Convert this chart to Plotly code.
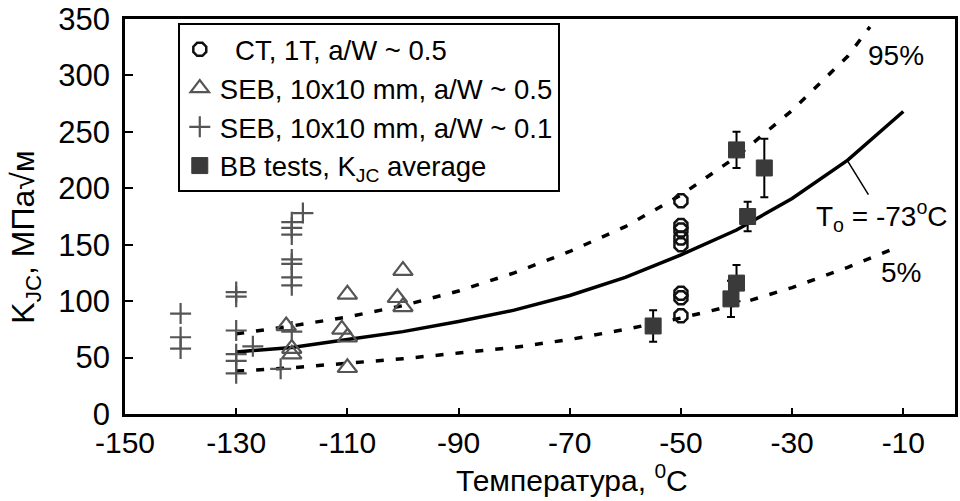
import plotly.graph_objects as go

# ---- data ----
ct_T = [-50, -50, -50, -50, -50, -50, -50, -50]
ct_K = [189, 167, 163, 156, 150, 107, 103, 87]

seb5_T = [-121, -120, -120, -110, -111, -110, -110, -100, -101, -100]
seb5_K = [78, 58, 53, 106, 75, 68, 41, 127, 103, 95]

seb1_T = [-140, -140, -140, -130, -130, -130, -130, -130, -130, -127, -122,
          -120, -120, -120, -120, -120, -120, -120, -120, -118]
seb1_K = [89, 68, 58, 108, 104, 74, 53, 47, 36, 60, 40,
          170, 165, 159, 137, 133, 121, 114, 73, 178]

bb_T = [-55, -40, -35, -38, -40, -41]
bb_K = [78, 234, 218, 175, 116, 102]
bb_err = [14, 16, 26, 13, 16, 16]

med_T = [-130, -120, -110, -100, -90, -80, -70, -60, -50, -40, -30, -20, -10]
med_K = [55, 59, 66, 73, 82, 92, 105, 121, 141, 163, 191, 225, 268]

p95_T = [-130, -120, -110, -100, -90, -80, -70, -60, -50, -40, -30, -20, -16]
p95_K = [71, 78, 86, 96, 109, 125, 144, 166, 194, 228, 269, 317, 343]

p5_T = [-130, -120, -110, -100, -90, -80, -70, -60, -50, -40, -30, -20, -12]
p5_K = [38, 41, 45, 49, 54, 59, 66, 75, 85, 97, 112, 130, 146]

x_ticks = [-150, -130, -110, -90, -70, -50, -30, -10]
x_labels = ["-150", "-130", "-110", "-90", "-70", "-50", "-30", "-10"]
y_ticks = [0, 50, 100, 150, 200, 250, 300, 350]
y_labels = ["0", "50", "100", "150", "200", "250", "300", "350"]

FONT = "Liberation Sans, Arial, sans-serif"

fig = go.Figure()

fig.add_trace(go.Scatter(x=p95_T, y=p95_K, mode="lines", showlegend=False,
                         line=dict(color="black", width=3.5, dash="8px,12px")))
fig.add_trace(go.Scatter(x=p5_T, y=p5_K, mode="lines", showlegend=False,
                         line=dict(color="black", width=3.5, dash="8px,12px")))
fig.add_trace(go.Scatter(x=med_T, y=med_K, mode="lines", showlegend=False,
                         line=dict(color="black", width=3.5)))

fig.add_trace(go.Scatter(x=ct_T, y=ct_K, mode="markers", name="\u00a0\u00a0CT, 1T, a/W ~ 0.5",
                         legendgroup="a",
                         marker=dict(symbol="octagon-open", size=14, color="#111111",
                                     line=dict(width=2.5, color="#111111"))))
fig.add_trace(go.Scatter(x=seb5_T, y=seb5_K, mode="markers", name="SEB, 10x10 mm, a/W ~ 0.5",
                         legendgroup="b",
                         marker=dict(symbol="triangle-up-open", size=17, color="#555555",
                                     line=dict(width=2.2, color="#555555"))))
fig.add_trace(go.Scatter(x=seb1_T, y=seb1_K, mode="markers", name="SEB, 10x10 mm, a/W ~ 0.1",
                         legendgroup="c",
                         marker=dict(symbol="cross-thin-open", size=15, color="#555555",
                                     line=dict(width=2.2, color="#555555"))))
fig.add_trace(go.Scatter(x=bb_T, y=bb_K, mode="markers", name="BB tests, K<sub>JC</sub> average",
                         legendgroup="d",
                         error_y=dict(type="data", array=bb_err, color="black", thickness=2, width=4),
                         marker=dict(symbol="square", size=16, color="#3a3a3a",
                                     line=dict(width=1, color="#3a3a3a"))))

fig.add_annotation(x=-11.4, y=318, text="95%", showarrow=False,
                   font=dict(family=FONT, size=28, color="black"))
fig.add_annotation(x=-10.4, y=125, text="5%", showarrow=False,
                   font=dict(family=FONT, size=28, color="black"))
fig.add_annotation(x=-20, y=224, text="T<sub>o</sub> = -73<sup>o</sup>C", showarrow=True,
                   arrowhead=0, arrowwidth=1.5, arrowcolor="black", ax=34, ay=55,
                   font=dict(family=FONT, size=28, color="black"))

fig.add_annotation(xref="paper", yref="paper", x=-0.12, y=0.45, textangle=-90,
                   xanchor="center", yanchor="middle",
                   text="K<sub>JC</sub>, МПа√м", showarrow=False,
                   font=dict(family=FONT, size=32, color="black"))
fig.add_annotation(xref="paper", yref="paper", x=0.538, y=-0.162,
                   xanchor="center", yanchor="middle",
                   text="Температура, <sup>0</sup>C", showarrow=False,
                   font=dict(family=FONT, size=30, color="black"))

fig.update_layout(
    width=960, height=501,
    margin=dict(l=125, r=2, t=14, b=87),
    paper_bgcolor="white", plot_bgcolor="white",
    font=dict(family=FONT, color="black"),
    legend=dict(x=0.0636, y=0.99, xanchor="left", yanchor="top",
                bordercolor="black", borderwidth=2, bgcolor="white",
                font=dict(family=FONT, size=27.5, color="black"), tracegroupgap=0),
)
fig.update_xaxes(range=[-150, -0.7], tickvals=x_ticks, ticktext=x_labels,
                 ticks="inside", ticklen=6,
                 tickwidth=2, tickcolor="black", showline=True, linewidth=2.5,
                 linecolor="black", mirror=True, showgrid=False, zeroline=False,
                 ticklabeloverflow="allow",
                 tickfont=dict(family=FONT, size=30, color="black"))
fig.update_yaxes(range=[0, 350], tickvals=y_ticks, ticktext=y_labels,
                 ticks="inside", ticklen=8,
                 tickwidth=2, tickcolor="black", showline=True, linewidth=2.5,
                 linecolor="black", mirror=True, showgrid=False, zeroline=False,
                 ticklabelstandoff=6, ticklabeloverflow="allow",
                 tickfont=dict(family=FONT, size=31, color="black"))

fig.write_html("out.html")
